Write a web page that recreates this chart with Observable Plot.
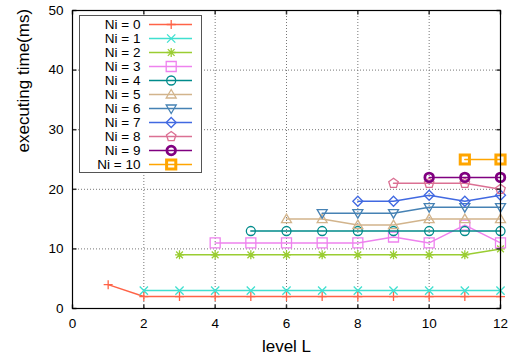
<!DOCTYPE html>
<html><head><meta charset="utf-8">
<script src="https://cdn.jsdelivr.net/npm/d3@7"></script>
<script src="https://cdn.jsdelivr.net/npm/@observablehq/plot@0.6"></script>
<style>
body{margin:0;background:#fff;font-family:"Liberation Sans",Arial,sans-serif;}
#wrap{position:relative;width:512px;height:357px;overflow:hidden;}
#legend{position:absolute;left:79px;top:15px;border:1px solid #555;background:#fff;line-height:0;}
</style></head><body>
<div id="wrap"><div id="chart"></div><div id="legend"></div></div>
<script>
// ---- data ----
const seriesNames = ["Ni = 0","Ni = 1","Ni = 2","Ni = 3","Ni = 4","Ni = 5","Ni = 6","Ni = 7","Ni = 8","Ni = 9","Ni = 10"];
const startLevels = [1,2,3,4,5,6,7,8,9,10,11];
const times0 = [4,2,2,2,2,2,2,2,2,2,2,2];
const times1 = [3,3,3,3,3,3,3,3,3,3,3];
const times2 = [9,9,9,9,9,9,9,9,9,10];
const times3 = [11,11,11,11,11,12,11,14,11];
const times4 = [13,13,13,13,13,13,13,13];
const times5 = [15,15,14,14,15,15,15];
const times6 = [16,16,16,17,17,17];
const times7 = [18,18,19,18,19];
const times8 = [21,21,21,20];
const times9 = [22,22,22];
const times10 = [25,25];
const allTimes = [times0,times1,times2,times3,times4,times5,times6,times7,times8,times9,times10];
const xTicks = [0,2,4,6,8,10,12];
const yTicks = [0,10,20,30,40,50];
const colors = ["#ff6347","#40e0d0","#9acd32","#ee82ee","#008b8b","#d2b48c","#4682b4","#4169e1","#db7093","#800080","#ffa500"];

// ---- symbols ----
const rad = s => Math.sqrt(s / Math.PI);
const sym = {
  plus:{draw(c,s){const h=rad(s);c.moveTo(-h,0);c.lineTo(h,0);c.moveTo(0,-h);c.lineTo(0,h);}},
  times:{draw(c,s){const h=rad(s)*0.75;c.moveTo(-h,-h);c.lineTo(h,h);c.moveTo(-h,h);c.lineTo(h,-h);}},
  asterisk:{draw(c,s){const h=rad(s),k=h*0.75;c.moveTo(-h,0);c.lineTo(h,0);c.moveTo(0,-h);c.lineTo(0,h);c.moveTo(-k,-k);c.lineTo(k,k);c.moveTo(-k,k);c.lineTo(k,-k);}},
  square:{draw(c,s){const h=rad(s);c.rect(-h,-h,2*h,2*h);}},
  circle:{draw(c,s){const h=rad(s);c.moveTo(h,0);c.arc(0,0,h,0,2*Math.PI);}},
  triangle:{draw(c,s){const h=rad(s);c.moveTo(0,-h);c.lineTo(h,h*0.7);c.lineTo(-h,h*0.7);c.closePath();}},
  triangleDown:{draw(c,s){const h=rad(s);c.moveTo(0,h);c.lineTo(h,-h*0.7);c.lineTo(-h,-h*0.7);c.closePath();}},
  diamond:{draw(c,s){const h=rad(s);c.moveTo(0,-h);c.lineTo(h,0);c.lineTo(0,h);c.lineTo(-h,0);c.closePath();}},
  pentagon:{draw(c,s){const h=rad(s);for(let k=0;k<5;k++){const a=-Math.PI/2+k*2*Math.PI/5;const px=h*Math.cos(a),py=h*Math.sin(a);k?c.lineTo(px,py):c.moveTo(px,py);}c.closePath();}},
  tickUp:{draw(c,s){const h=rad(s);c.moveTo(0,0);c.lineTo(0,-h);}},
  tickDown:{draw(c,s){const h=rad(s);c.moveTo(0,0);c.lineTo(0,h);}},
  tickRight:{draw(c,s){const h=rad(s);c.moveTo(0,0);c.lineTo(h,0);}},
  tickLeft:{draw(c,s){const h=rad(s);c.moveTo(0,0);c.lineTo(-h,0);}}
};
const markerSymbols = [sym.plus,sym.times,sym.asterisk,sym.square,sym.circle,sym.triangle,sym.triangleDown,sym.diamond,sym.pentagon,sym.circle,sym.square];
const markerR = [4.5,5.5,4.5,5,4.5,5,5,5,5,4.3,4.6];
const markerW = [1.3,1.3,1.3,1.3,1.3,1.3,1.3,1.3,1.3,2.8,3];

const data = [];
allTimes.forEach((arr,i)=>arr.forEach((t,j)=>data.push({idx:i, L:startLevels[i]+j, t})));

const font = '"Liberation Sans", Arial, sans-serif';
const seriesMarks = [];
colors.forEach((col,i)=>{
  const d = data.filter(r=>r.idx===i);
  seriesMarks.push(Plot.line(d,{x:"L",y:"t",stroke:col,strokeWidth:1.5}));
  seriesMarks.push(Plot.dot(d,{x:"L",y:"t",symbol:markerSymbols[i],r:markerR[i],stroke:col,strokeWidth:markerW[i],fill:"none"}));
});

const chart = Plot.plot({
  width:512, height:357,
  marginLeft:72, marginRight:12, marginTop:10, marginBottom:49,
  style:{fontFamily:font, fontSize:"13.5px", color:"#000", background:"#fff"},
  x:{domain:[0,12]},
  y:{domain:[0,50]},
  marks:[
    Plot.gridX(xTicks.slice(1,-1),{stroke:"#777",strokeOpacity:1,strokeDasharray:"1,2"}),
    Plot.gridY(yTicks.slice(1,-1),{stroke:"#777",strokeOpacity:1,strokeDasharray:"1,2"}),
    ...seriesMarks,
    Plot.dot(xTicks,{x:d=>d,frameAnchor:"bottom",symbol:sym.tickUp,r:4,stroke:"#333"}),
    Plot.dot(xTicks,{x:d=>d,frameAnchor:"top",symbol:sym.tickDown,r:4,stroke:"#333"}),
    Plot.dot(yTicks,{y:d=>d,frameAnchor:"left",symbol:sym.tickRight,r:4,stroke:"#333"}),
    Plot.dot(yTicks,{y:d=>d,frameAnchor:"right",symbol:sym.tickLeft,r:4,stroke:"#333"}),
    Plot.frame({stroke:"#000",strokeWidth:1.2}),
    Plot.axisX(xTicks,{tickSize:0,tickPadding:10,label:null,fontSize:13.5}),
    Plot.axisY(yTicks,{tickSize:0,tickPadding:9,label:null,fontSize:13.5}),
    Plot.text(["level L"],{frameAnchor:"bottom",dy:43,lineAnchor:"bottom",fontSize:17}),
    Plot.text(["executing time(ms)"],{frameAnchor:"left",rotate:-90,dx:-49,dy:-7,fontSize:17})
  ]
});
document.getElementById("chart").append(chart);

// ---- legend ----
const legendTextRight = 60;
const legendLineStart = 69/121, legendLineEnd = 112/121, legendMarker = 90.7/121;
const legendMarks = [
  Plot.text(seriesNames,{y:d=>d,frameAnchor:"left",dx:legendTextRight,textAnchor:"end",fontSize:13.5})
];
seriesNames.forEach((name,i)=>{
  legendMarks.push(Plot.ruleY([name],{y:d=>d,x1:legendLineStart,x2:legendLineEnd,stroke:colors[i],strokeWidth:1.5}));
  legendMarks.push(Plot.dot([name],{y:d=>d,x:legendMarker,symbol:markerSymbols[i],r:markerR[i],stroke:colors[i],strokeWidth:markerW[i],fill:"none"}));
});
const legend = Plot.plot({
  width:121, height:156,
  marginLeft:0, marginRight:0, marginTop:7, marginBottom:7,
  style:{fontFamily:font, fontSize:"13.5px", color:"#000", background:"#fff"},
  x:{domain:[0,1], axis:null},
  y:{type:"point", domain:seriesNames, padding:0, axis:null},
  marks:legendMarks
});
document.getElementById("legend").append(legend);
</script>
</body></html>
